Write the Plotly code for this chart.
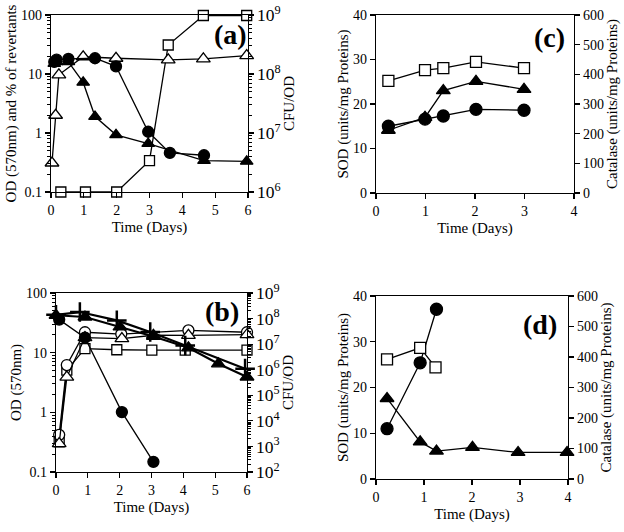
import plotly.graph_objects as go

W, H = 624, 532

# ---------------- Panel (a) ----------------
a_sq_x = [0.3, 1.05, 2.0, 3.0, 3.57, 4.64, 5.96]
a_sq_y = [0.1, 0.1, 0.1, 0.34, 31, 98, 98]          # % of revertants
a_otri_x = [0.03, 0.14, 0.24, 0.98, 1.98, 3.57, 4.64, 5.96]
a_otri_y = [0.31, 2.0, 9.7, 19.6, 18.5, 17.4, 18, 20.5]  # OD
a_fcir_x = [0.1, 0.17, 0.53, 1.34, 1.98, 2.96, 3.62, 4.66]
a_fcir_y = [1.6e8, 1.75e8, 1.8e8, 1.85e8, 1.35e8, 1.05e7, 4.6e6, 4.2e6]  # CFU/OD
a_ftri_x = [0.1, 0.17, 0.53, 0.98, 1.34, 1.98, 2.96, 4.66, 5.96]
a_ftri_y = [1.5e8, 1.6e8, 1.6e8, 7.2e7, 1.9e7, 9.3e6, 6.6e6, 3.4e6, 3.3e6]

# ---------------- Panel (b) ----------------
b_ocir_x = [0.1, 0.34, 0.91, 2.05, 4.16, 6.0]
b_ocir_y = [0.42, 6.2, 22, 20.5, 23.7, 22]
b_otri_x = [0.1, 0.34, 0.91, 2.07, 3.06, 4.16, 6.0]
b_otri_y = [0.30, 3.9, 17.9, 17.2, 19.6, 19.5, 20]
b_sq_x = [0.1, 0.34, 0.91, 1.91, 3.01, 4.06, 6.0]
b_sq_y = [0.32, 5.1, 11.7, 11.2, 11.0, 11.0, 11.0]
b_fcir_x = [0.1, 0.91, 2.07, 3.06]
b_fcir_y = [9.1e7, 1.8e7, 2.2e4, 2.5e2]             # CFU/OD
b_ftri_x = [0.0, 0.91, 2.01, 3.06, 4.16, 5.1, 6.0]
b_ftri_y = [1.35e8, 1.15e8, 4.7e7, 2.0e7, 7.2e6, 1.7e6, 5.2e5]
b_plus_x = [0.0, 0.75, 1.91, 2.96, 4.06, 5.94]
b_plus_y = [1.4e8, 1.8e8, 8.5e7, 3.0e7, 8.9e6, 1.1e6]

# ---------------- Panel (c) ----------------
c_x = [0.25, 0.99, 1.36, 2.02, 2.99]
c_cat = [378, 414, 421, 442, 421]        # catalase (squares)
c_ftri = [14.1, 17.0, 23.0, 25.1, 23.3]  # SOD
c_fcir = [15.0, 16.6, 17.3, 18.8, 18.6]

# ---------------- Panel (d) ----------------
d_sq_x = [0.23, 0.92, 1.24]
d_cat = [392, 430, 366]
d_fcir_x = [0.23, 0.92, 1.26]
d_fcir = [11.0, 25.4, 37.1]
d_ftri_x = [0.23, 0.92, 1.26, 2.01, 2.96, 3.98]
d_ftri = [17.6, 8.1, 6.1, 6.9, 5.8, 5.8]

FONT = "Liberation Serif"
fig = go.Figure()

def add(x, y, xa, ya, symbol, filled, size=11, lw=1.3, mlw=1.3):
    fig.add_trace(go.Scatter(
        x=x, y=y, xaxis=xa, yaxis=ya, mode="lines+markers", cliponaxis=False,
        line=dict(color="black", width=lw),
        marker=dict(symbol=symbol, size=size,
                    color="black" if filled else "white",
                    line=dict(color="black", width=mlw)),
        showlegend=False, hoverinfo="skip"))

# (a)
add(a_sq_x, a_sq_y, "x", "y", "square", False, 10)
add(a_fcir_x, a_fcir_y, "x", "y2", "circle", True)
add(a_ftri_x, a_ftri_y, "x", "y2", "triangle-up", True)
add(a_otri_x, a_otri_y, "x", "y", "triangle-up", False, 12)
# (b)
add(b_ftri_x, b_ftri_y, "x2", "y4", "triangle-up", True, 12, 2.2)
add(b_plus_x, b_plus_y, "x2", "y4", "cross-thin", True, 14, 2.2, 2.5)
add(b_fcir_x, b_fcir_y, "x2", "y4", "circle", True)
add(b_sq_x, b_sq_y, "x2", "y3", "square", False, 10)
add(b_ocir_x, b_ocir_y, "x2", "y3", "circle", False)
add(b_otri_x, b_otri_y, "x2", "y3", "triangle-up", False, 12)
# (c)
add(c_x, c_cat, "x3", "y6", "square", False, 11)
add(c_x, c_ftri, "x3", "y5", "triangle-up", True, 12)
add(c_x, c_fcir, "x3", "y5", "circle", True, 12)
# (d)
add(d_sq_x, d_cat, "x4", "y8", "square", False, 11)
add(d_fcir_x, d_fcir, "x4", "y7", "circle", True, 12)
add(d_ftri_x, d_ftri, "x4", "y7", "triangle-up", True, 12)

tickfont = dict(family=FONT, size=14, color="black")
titlefont = dict(family=FONT, size=15, color="black")

def xd(p0, p1):
    return [p0 / W, p1 / W]

def yd(p0, p1):  # p0 top px, p1 bottom px
    return [1 - p1 / H, 1 - p0 / H]

common = dict(showline=True, linecolor="black", linewidth=1.3, ticks="outside",
              ticklen=5, tickwidth=1.2, tickcolor="black", showgrid=False,
              zeroline=False, tickfont=tickfont, automargin=False)
logminor = dict(ticks="outside", ticklen=3, tickwidth=1, tickcolor="black",
                dtick="D1", showgrid=False)

panels = [
    ("xaxis", "yaxis", "yaxis2", "y", "x", xd(51, 248), yd(15, 192), [0, 6],
     "OD (570nm) and % of revertants", "CFU/OD", [-1, 2], [6, 9], True),
    ("xaxis2", "yaxis3", "yaxis4", "y3", "x2", xd(56, 247), yd(293, 472), [0, 6],
     "OD (570nm)", "CFU/OD", [-1, 2], [2, 9], True),
    ("xaxis3", "yaxis5", "yaxis6", "y5", "x3", xd(376, 574), yd(15, 193), [0, 4],
     "SOD (units/mg Proteins)", "Catalase (units/mg Proteins)", [0, 40], [0, 600], False),
    ("xaxis4", "yaxis7", "yaxis8", "y7", "x4", xd(376, 568), yd(296, 479), [0, 4],
     "SOD (units/mg Proteins)", "Catalase (units/mg Proteins)", [0, 40], [0, 600], False),
]

lay = {}
for (xk, yk, rk, yname, xname, xdom, ydom, xr, yt, rt, yr, rr, islog) in panels:
    lay[xk] = dict(common, domain=xdom, range=xr, dtick=1, anchor=yname, mirror=True,
                   title=dict(text="Time (Days)", font=titlefont, standoff=4))
    if islog:
        lay[yk] = dict(common, domain=ydom, type="log", range=yr, dtick=1, anchor=xname,
                       minor=logminor,
                       title=dict(text=yt, font=titlefont, standoff=0))
        lay[rk] = dict(common, type="log", range=rr, dtick=1, anchor=xname,
                       overlaying=yname, side="right", exponentformat="power",
                       minor=logminor,
                       title=dict(text=rt, font=titlefont, standoff=2))
    else:
        lay[yk] = dict(common, domain=ydom, range=yr, dtick=10, anchor=xname,
                       title=dict(text=yt, font=titlefont, standoff=0))
        lay[rk] = dict(common, range=rr, dtick=100, anchor=xname,
                       overlaying=yname, side="right",
                       title=dict(text=rt, font=titlefont, standoff=2))

labels = [("(a)", 230, 35), ("(b)", 222, 311), ("(c)", 549, 37), ("(d)", 540, 324)]
ann = [dict(text="<b>%s</b>" % t, x=px / W, y=1 - py / H, xref="paper", yref="paper",
            showarrow=False, xanchor="center", yanchor="middle",
            font=dict(family=FONT, size=28, color="black"))
       for t, px, py in labels]

fig.update_layout(width=W, height=H, margin=dict(l=0, r=0, t=0, b=0),
                  paper_bgcolor="white", plot_bgcolor="white", hovermode=False,
                  font=dict(family=FONT, color="black"), annotations=ann, **lay)

fig.write_html("out.html", config={"displayModeBar": False, "staticPlot": True},
               post_script="document.body.style.margin='0';document.body.style.padding='0';")
